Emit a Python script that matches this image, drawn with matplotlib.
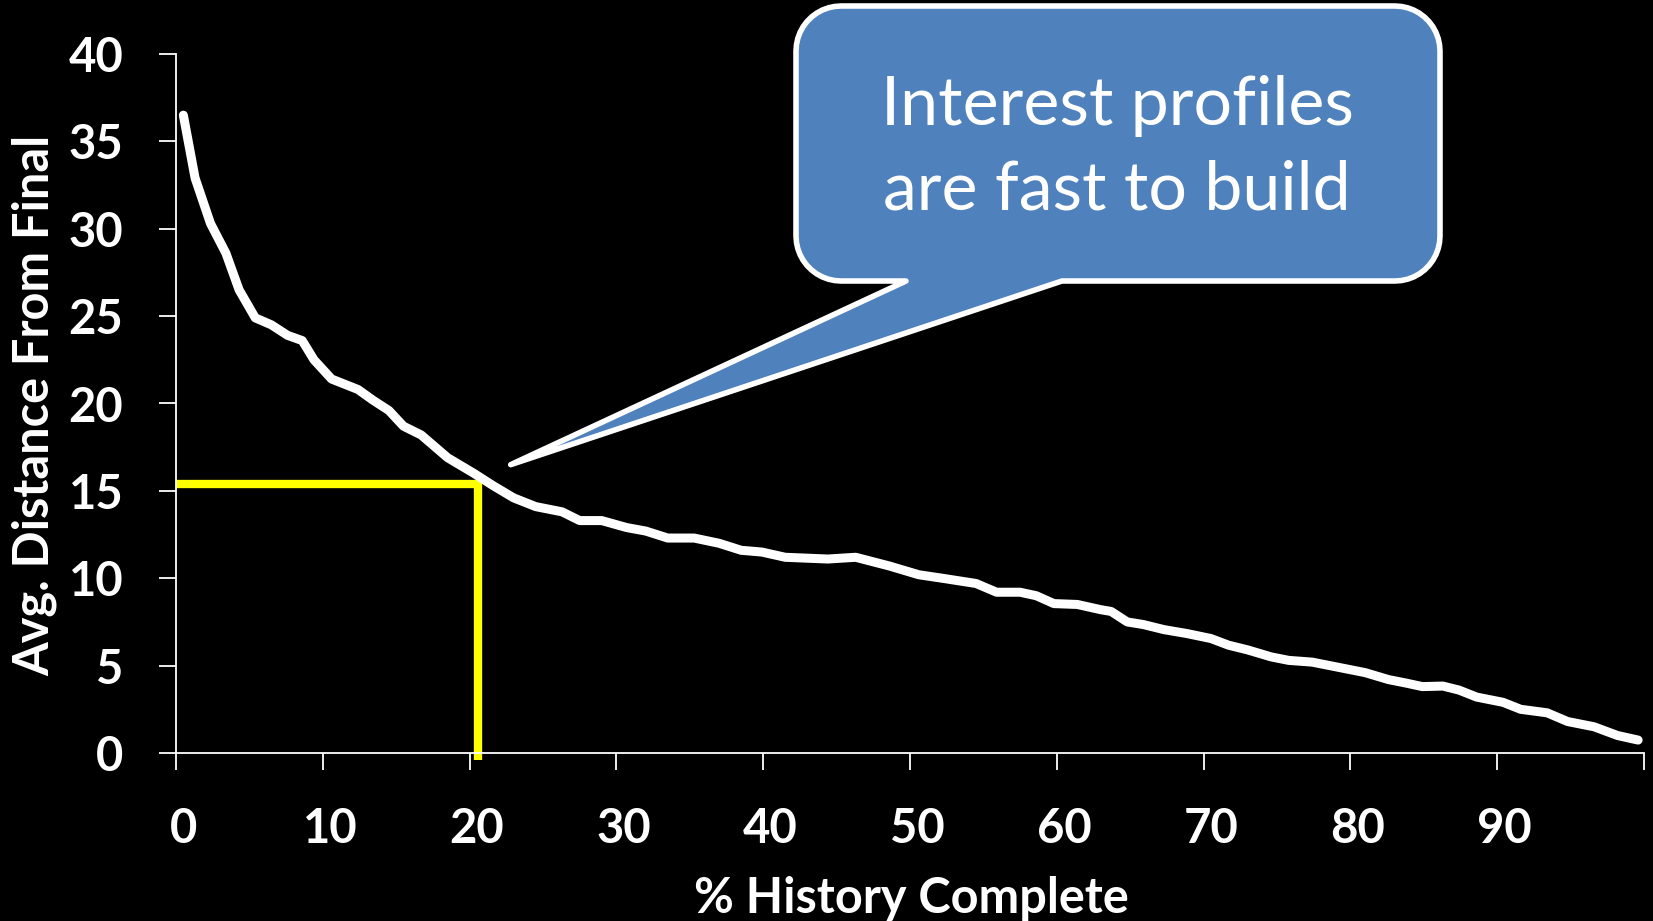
import numpy as np
import matplotlib
matplotlib.use('Agg')
from matplotlib import pyplot as plt
from matplotlib.path import Path
from matplotlib.patches import PathPatch

plt.rcParams['font.family'] = ['Lato', 'DejaVu Sans']

# curve
hist_pct = [0.5, 1.3, 2.35, 3.4, 4.3, 5.4, 6.5, 7.6, 8.6, 9.4, 10.6, 12.4, 13.4,
            14.5, 15.5, 16.7, 18.5, 20.3, 21.6, 23.0, 24.5, 26.3, 27.5, 29.0,
            30.7, 32.0, 33.5, 35.3, 37.0, 38.5, 39.9, 41.5, 44.4, 46.3, 48.6,
            50.6, 52.2, 54.5, 55.9, 57.5, 58.6, 59.8, 61.4, 63.0, 63.7, 64.8,
            65.9, 67.3, 68.9, 70.5, 71.7, 73.0, 74.6, 75.8, 77.4, 79.2, 81.0,
            82.6, 83.8, 84.9, 86.3, 87.4, 88.6, 90.4, 91.6, 93.4, 94.8, 96.6,
            98.2, 99.6]
avg_dist = [36.5, 32.9, 30.3, 28.6, 26.5, 24.9, 24.5, 23.9, 23.6, 22.5, 21.4,
            20.8, 20.2, 19.6, 18.7, 18.2, 16.9, 16.0, 15.3, 14.6, 14.1, 13.8,
            13.3, 13.3, 12.9, 12.7, 12.3, 12.3, 12.0, 11.6, 11.5, 11.2, 11.1,
            11.2, 10.7, 10.2, 10.0, 9.7, 9.2, 9.2, 9.0, 8.55, 8.5, 8.2, 8.1,
            7.5, 7.35, 7.06, 6.83, 6.55, 6.17, 5.9, 5.5, 5.3, 5.2, 4.9, 4.6,
            4.2, 4.0, 3.8, 3.83, 3.6, 3.2, 2.9, 2.5, 2.3, 1.8, 1.5, 1.0, 0.74]

# yellow marker lines
mark_x = 20.6
mark_y = 15.4

x_ticks = list(range(0, 101, 10))
x_labels = [str(v) for v in range(0, 91, 10)]
y_ticks = list(range(0, 41, 5))

callout_text = 'Interest profiles\nare fast to build'
callout_tip = (22.8, 16.5)

W, H = 1653, 921
fig = plt.figure(figsize=(W / 100, H / 100), dpi=100, facecolor='black')
ax = fig.add_axes([176 / W, 1 - 753 / H, (1644 - 176) / W, (753 - 54) / H])
ax.set_facecolor('black')

ax.plot([0, mark_x, mark_x], [mark_y, mark_y, -0.4], color='#FFFF00', lw=6,
        solid_joinstyle='miter', solid_capstyle='butt', clip_on=False, zorder=2)
ax.plot(hist_pct, avg_dist, color='white', lw=6.5, solid_capstyle='round',
        solid_joinstyle='round', clip_on=False, zorder=3)

ax.set_xlim(0, 100)
ax.set_ylim(0, 40)
for s in ['top', 'right']:
    ax.spines[s].set_visible(False)
for s in ['left', 'bottom']:
    ax.spines[s].set_color('white')
    ax.spines[s].set_linewidth(1.3)

ax.set_xticks(x_ticks)
ax.set_xticklabels([])
ax.set_xticks([v + 0.5 for v in range(0, 91, 10)], minor=True)
ax.set_xticklabels(x_labels, minor=True)
ax.tick_params(axis='x', which='major', length=12, width=1.3, color='white')
ax.tick_params(axis='x', which='minor', length=0, pad=39, labelsize=34,
               labelcolor='white')
ax.set_yticks(y_ticks)
ax.tick_params(axis='y', length=12, width=1.3, color='white', pad=26,
               labelsize=34, labelcolor='white')
for lab in ax.get_xticklabels(minor=True) + ax.get_yticklabels():
    lab.set_fontweight('bold')

fig.text(35 / W, 1 - 405 / H, 'Avg. Distance From Final', rotation=90,
         ha='center', va='center', color='white', fontsize=35, fontweight='bold')
fig.text(911 / W, 1 - 913 / H, '% History Complete', ha='center',
         va='baseline', color='white', fontsize=35, fontweight='bold')

# callout: rounded box with a tail pointing at the curve
left, right, top, bottom, r = 796, 1440, 6, 281, 45
tip = ax.transData.transform(callout_tip)
tip_px = (tip[0], H - tip[1])

def arc(cx, cy, a0, a1, n=12):
    t = np.linspace(np.radians(a0), np.radians(a1), n)
    return [(cx + r * np.cos(t_), cy + r * np.sin(t_)) for t_ in t]

pts = [(left + r, top), (right - r, top)]
pts += arc(right - r, top + r, -90, 0)
pts += [(right, bottom - r)]
pts += arc(right - r, bottom - r, 0, 90)
pts += [(1062, bottom), tip_px, (906, bottom), (left + r, bottom)]
pts += arc(left + r, bottom - r, 90, 180)
pts += [(left, top + r)]
pts += arc(left + r, top + r, 180, 270)
pts.append(pts[0])
verts = [(x / W, 1 - y / H) for x, y in pts]
codes = [Path.MOVETO] + [Path.LINETO] * (len(verts) - 2) + [Path.CLOSEPOLY]
bubble = PathPatch(Path(verts, codes), facecolor='#4F81BD', edgecolor='white',
                   lw=4, joinstyle='round', transform=fig.transFigure, zorder=5)
fig.patches.append(bubble)
fig.text(1117 / W, 1 - 148 / H, callout_text, ha='center', va='center',
         color='white', fontsize=49, linespacing=1.45, zorder=6)

fig.savefig('out.png', dpi=100, facecolor='black')
